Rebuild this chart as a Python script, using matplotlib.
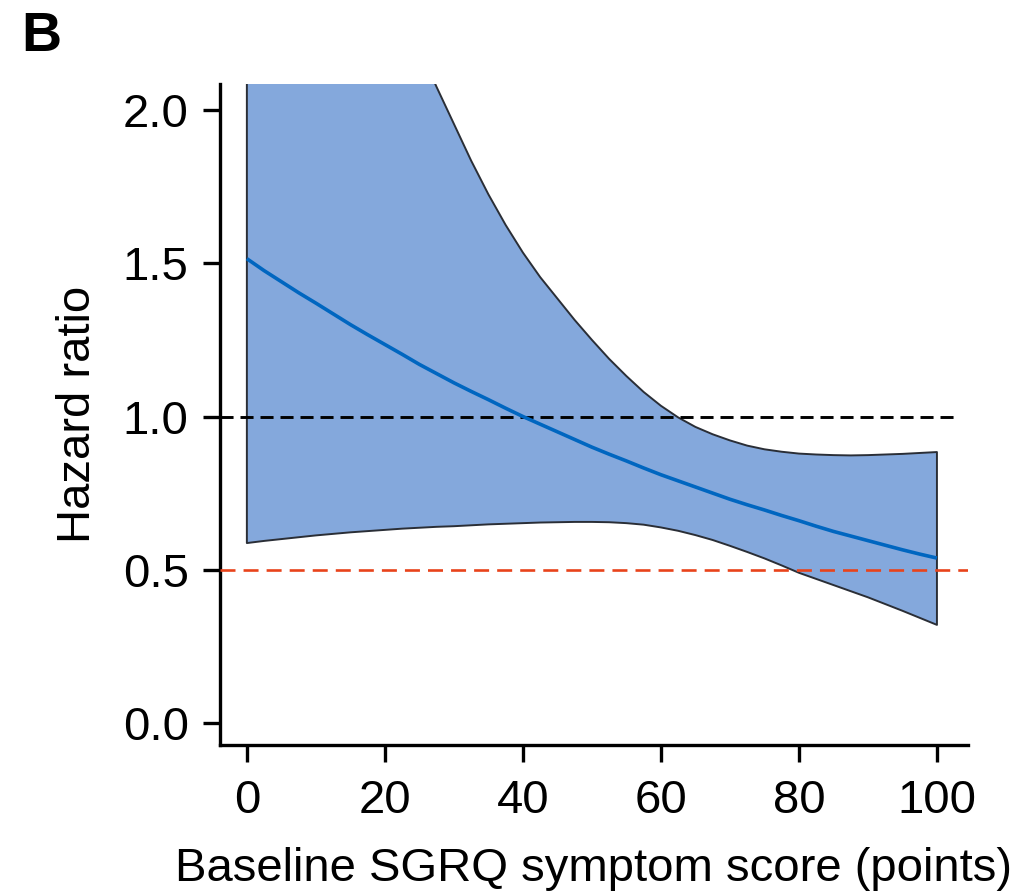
import matplotlib
matplotlib.use("Agg")
import matplotlib.pyplot as plt

plt.rcParams["font.family"] = ["Liberation Sans", "DejaVu Sans"]
plt.rcParams["lines.scale_dashes"] = False

# Baseline SGRQ symptom score (points)
score = [0, 2.5, 5, 7.5, 10, 12.5, 15, 17.5, 20, 22.5, 25, 27.5, 30, 32.5, 35, 37.5,
         40, 42.5, 45, 47.5, 50, 52.5, 55, 57.5, 60, 62.5, 65, 67.5, 70, 72.5, 75,
         77.5, 80, 82.5, 85, 87.5, 90, 92.5, 95, 97.5, 100]

# Hazard ratio estimate
hr = [1.515, 1.476, 1.44, 1.404, 1.37, 1.335, 1.30, 1.267, 1.235, 1.203, 1.17,
      1.14, 1.11, 1.082, 1.055, 1.027, 1.0, 0.975, 0.95, 0.925, 0.90, 0.877,
      0.855, 0.832, 0.81, 0.79, 0.77, 0.75, 0.73, 0.712, 0.695, 0.677, 0.66,
      0.642, 0.625, 0.61, 0.595, 0.58, 0.565, 0.551, 0.538]

# Upper 95% confidence limit
hr_upper = [3.9, 3.67, 3.45, 3.27, 3.1, 2.93, 2.76, 2.62, 2.48, 2.34, 2.2, 2.075,
            1.955, 1.835, 1.725, 1.625, 1.535, 1.455, 1.385, 1.315, 1.25, 1.188,
            1.132, 1.08, 1.035, 0.997, 0.966, 0.942, 0.922, 0.905, 0.893, 0.885,
            0.879, 0.876, 0.874, 0.873, 0.874, 0.876, 0.878, 0.881, 0.884]

# Lower 95% confidence limit
hr_lower = [0.587, 0.594, 0.60, 0.606, 0.612, 0.617, 0.622, 0.626, 0.63, 0.634,
            0.637, 0.64, 0.642, 0.645, 0.648, 0.65, 0.652, 0.654, 0.655, 0.656,
            0.656, 0.655, 0.652, 0.647, 0.638, 0.627, 0.613, 0.597, 0.578, 0.558,
            0.537, 0.514, 0.49, 0.47, 0.45, 0.43, 0.41, 0.388, 0.366, 0.343, 0.32]

x_ticks = [0, 20, 40, 60, 80, 100]
y_ticks = [0.0, 0.5, 1.0, 1.5, 2.0]
y_tick_labels = ["0.0", "0.5", "1.0", "1.5", "2.0"]

fig = plt.figure(figsize=(10.24, 8.92), dpi=100)
ax = fig.add_axes([0.2148, 0.1648, 0.7305, 0.741])

ax.fill_between(score, hr_lower, hr_upper, facecolor="#84A8DC",
                edgecolor="#2a2e36", linewidth=1.4, zorder=2)
ax.plot(score, hr, color="#0066C0", linewidth=2.6, zorder=4,
        solid_capstyle="butt")

ax.axhline(1.0, xmin=0.0, xmax=0.986, color="black", linewidth=2.1,
           linestyle=(0, (9.4, 5.0)), zorder=3)
ax.axhline(0.5, xmin=0.0, xmax=1.0, color="#E8431B", linewidth=1.9,
           linestyle=(0, (10.8, 5.8)), zorder=3)

ax.set_xlim(-3.9, 104.5)
ax.set_ylim(-0.072, 2.085)

for side in ("top", "right"):
    ax.spines[side].set_visible(False)
for side in ("left", "bottom"):
    ax.spines[side].set_linewidth(2.4)

ax.set_xticks(x_ticks)
ax.set_xticklabels([str(v) for v in x_ticks])
ax.set_yticks(y_ticks)
ax.set_yticklabels(y_tick_labels)
ax.tick_params(axis="both", direction="out", length=12.5, width=2.4,
               labelsize=34, colors="black")
ax.tick_params(axis="y", pad=10)
ax.tick_params(axis="x", pad=12)

ax.set_xlabel("Baseline SGRQ symptom score (points)", fontsize=34, labelpad=17)
ax.set_ylabel("Hazard ratio", fontsize=34, labelpad=16)

fig.text(0.021, 0.988, "B", fontsize=40, fontweight="bold", ha="left", va="top")

fig.savefig("out.png", dpi=100)
